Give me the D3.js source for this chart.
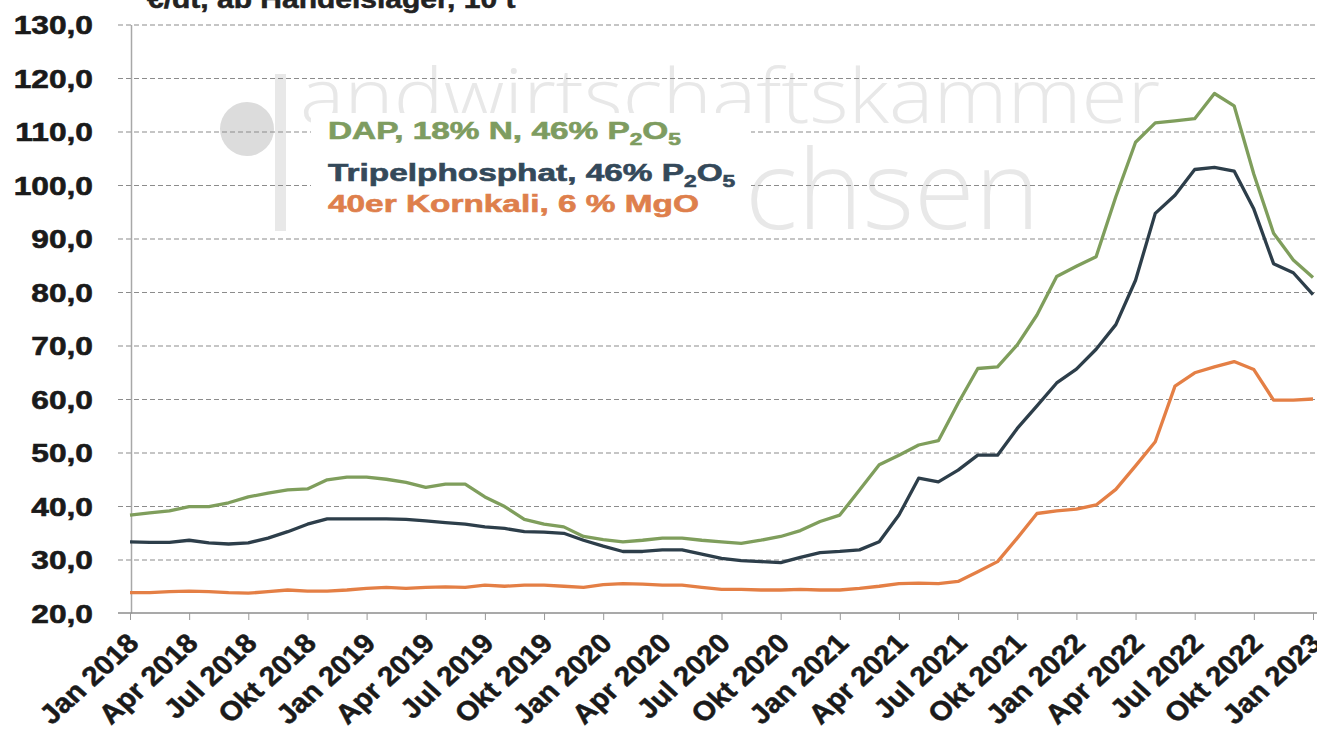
<!DOCTYPE html>
<html><head><meta charset="utf-8">
<script src="https://cdn.jsdelivr.net/npm/d3@7"></script>
<style>body{margin:0;background:#fff;overflow:hidden}svg{display:block}</style>
</head><body><svg id="c" width="1317" height="746"></svg>
<script>
const tickLabels = ["Jan 2018","Apr 2018","Jul 2018","Okt 2018","Jan 2019","Apr 2019","Jul 2019","Okt 2019",
  "Jan 2020","Apr 2020","Jul 2020","Okt 2020","Jan 2021","Apr 2021","Jul 2021","Okt 2021",
  "Jan 2022","Apr 2022","Jul 2022","Okt 2022","Jan 2023"];
const yTicks = [20,30,40,50,60,70,80,90,100,110,120,130];
const dap = [38.3,38.7,39.1,39.9,39.9,40.6,41.7,42.4,43.0,43.2,44.9,45.4,
  45.4,45.0,44.4,43.5,44.1,44.1,41.7,39.9,37.5,36.6,36.1,34.3,
  33.7,33.3,33.6,34.0,34.0,33.6,33.3,33.0,33.6,34.3,35.4,37.1,
  38.3,43.0,47.7,49.5,51.4,52.2,59.2,65.7,66.0,70.1,75.7,82.9,
  84.8,86.6,97.8,108.0,111.6,112.0,112.4,117.1,114.8,102.0,91.0,86.0,82.7];
const tripel = [33.3,33.2,33.2,33.6,33.1,32.9,33.1,34.0,35.2,36.6,37.6,37.6,
  37.6,37.6,37.5,37.2,36.9,36.6,36.1,35.8,35.2,35.1,34.9,33.6,
  32.5,31.5,31.5,31.8,31.8,31.0,30.2,29.8,29.6,29.4,30.4,31.3,
  31.5,31.8,33.3,38.3,45.2,44.5,46.7,49.5,49.5,54.5,58.7,63.0,
  65.6,69.3,73.9,82.2,94.7,98.1,102.9,103.3,102.6,95.5,85.3,83.6,79.5];
const kornkali = [23.8,23.8,24.0,24.1,24.0,23.8,23.7,24.0,24.3,24.1,24.1,24.3,
  24.6,24.8,24.6,24.8,24.9,24.8,25.2,25.0,25.2,25.2,25.0,24.8,
  25.3,25.5,25.4,25.2,25.2,24.8,24.4,24.4,24.3,24.3,24.4,24.3,
  24.3,24.6,25.0,25.5,25.6,25.5,25.9,27.7,29.6,34.0,38.6,39.1,
  39.4,40.2,43.1,47.5,52.0,62.4,64.9,66.0,67.0,65.5,59.8,59.8,60.0];
const seriesNames = [
  {main:"DAP, 18% N, 46% P", sub1:"2", mid:"O", sub2:"5"},
  {main:"Tripelphosphat, 46% P", sub1:"2", mid:"O", sub2:"5"},
  {main:"40er Kornkali, 6 % MgO"}
];
const colors = ["#7f9e5c","#2d3e4a","#e47f45"];
const textColors = ["#7e9c60","#34495a","#de7f4c"];
const title = "€/dt, ab Handelslager, 10 t";

const svg = d3.select("#c");
const W = 1317;
const x = d3.scaleLinear().domain([0,60]).range([130,1313]);
const y = d3.scaleLinear().domain([20,130]).range([613,24.5]);
const font = "'Liberation Sans', Arial, sans-serif";

// watermark (logo behind the chart)
const wm = svg.append("g");
wm.append("circle").attr("cx",247).attr("cy",129).attr("r",27).attr("fill","#dcdcdc");
wm.append("rect").attr("x",275).attr("y",74).attr("width",11).attr("height",157).attr("fill","#e8e8e8");
wm.append("text").attr("x",300).attr("y",123).attr("font-family","'Open Sans', sans-serif").attr("font-weight",300)
  .attr("font-size",76).attr("textLength",860).attr("lengthAdjust","spacingAndGlyphs").attr("fill","#e8e8e8").text("andwirtschaftskammer");
wm.append("text").attr("x",745).attr("y",229).attr("font-family","'Open Sans', sans-serif").attr("font-weight",300)
  .attr("font-size",110).attr("textLength",295).attr("lengthAdjust","spacingAndGlyphs").attr("fill","#e8e8e8").text("chsen");

// title (cut at the top edge, as in the scan)
svg.append("text").attr("transform","translate(147,8) scale(1.2,1)").attr("font-family",font).attr("font-weight","bold")
  .attr("font-size",25).attr("fill","#222").attr("stroke","#222").attr("stroke-width",0.5).text(title);

// gridlines
const grid = svg.append("g").attr("transform","translate(131,0)")
  .call(d3.axisLeft(y).tickValues(yTicks.filter(v=>v>20)).tickSize(-(W-131)).tickFormat(""));
grid.select(".domain").remove();
grid.selectAll("line").attr("stroke","#8c8c8c").attr("stroke-width",1.1).attr("stroke-dasharray","5,3").attr("x1",-13);

// legend box
svg.append("rect").attr("x",311).attr("y",113).attr("width",440).attr("height",120).attr("fill","#fff");

// y axis
const yAx = svg.append("g").attr("transform","translate(131,0)")
  .call(d3.axisLeft(y).tickValues(yTicks).tickSize(0).tickFormat(d=>d.toFixed(1).replace(".",",")));
yAx.select(".domain").attr("stroke","#a8a8a8").attr("stroke-width",1.5);
yAx.selectAll("text").attr("font-family",font).attr("font-weight","bold").attr("font-size",26).attr("fill","#1a1a1a")
  .attr("stroke","#1a1a1a").attr("stroke-width",0.6)
  .attr("x",-38/1.22).attr("dy","0.36em").attr("transform","scale(1.22,1)");

// x axis
const xAx = svg.append("g").attr("transform","translate(0,613)")
  .call(d3.axisBottom(x).tickValues(d3.range(0,61,3)).tickSize(7).tickFormat((d,i)=>tickLabels[i]));
xAx.select(".domain").attr("stroke","#8c8c8c").attr("stroke-width",1.3).attr("d","M118,0H"+W);
xAx.selectAll("line").attr("stroke","#999");
xAx.selectAll("text").attr("font-family",font).attr("font-weight","bold").attr("font-size",27).attr("fill","#1a1a1a")
  .attr("stroke","#1a1a1a").attr("stroke-width",0.5)
  .attr("text-anchor","end").attr("y",0).attr("dy",0)
  .attr("transform","translate(10,32) scale(1.1,1) rotate(-45)");

// lines
const line = d3.line().x((d,i)=>x(i)).y(d=>y(d));
[dap,tripel,kornkali].forEach((s,k)=>{
  svg.append("path").datum(s).attr("d",line).attr("fill","none").attr("stroke",colors[k])
    .attr("stroke-width",3.3).attr("stroke-linejoin","round");
});

// legend text
const lg = svg.append("g").attr("font-family",font).attr("font-weight","bold").attr("font-size",23.5);
const baselines = [138.5,181,212];
seriesNames.forEach((s,k)=>{
  const t = lg.append("text").attr("transform",`translate(328,${baselines[k]}) scale(1.42,1)`)
    .attr("fill",textColors[k]).attr("stroke",textColors[k]).attr("stroke-width",0.6);
  t.append("tspan").text(s.main);
  if (s.sub1) {
    t.append("tspan").attr("font-size",16).attr("dy",6).text(s.sub1);
    t.append("tspan").attr("dy",-6).text(s.mid);
    t.append("tspan").attr("font-size",16).attr("dy",6).text(s.sub2);
  }
});
</script></body></html>
